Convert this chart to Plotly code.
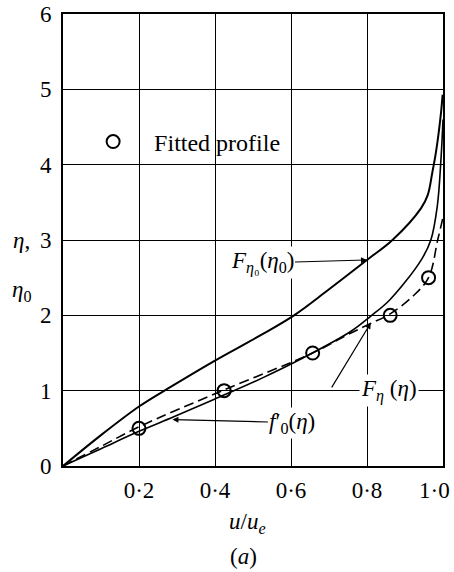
import plotly.graph_objects as go

# ---- data ----
u_upper = [0, 0.1, 0.2, 0.27, 0.40, 0.525, 0.608, 0.696, 0.80, 0.867, 0.942, 0.96, 0.972, 0.98, 0.988, 0.995, 0.999]
eta_upper = [0, 0.41, 0.79, 1.01, 1.40, 1.75, 2.0, 2.33, 2.735, 3.0, 3.42, 3.6, 3.9, 4.12, 4.4, 4.7, 4.93]

u_f0 = [0, 0.1, 0.2, 0.29, 0.40, 0.525, 0.626, 0.757, 0.81, 0.859, 0.942, 0.968, 0.985, 0.995, 1.0]
eta_f0 = [0, 0.23, 0.46, 0.65, 0.89, 1.17, 1.42, 1.785, 1.99, 2.20, 2.73, 3.0, 3.45, 4.1, 4.6]

u_Feta = [0, 0.1, 0.2, 0.424, 0.657, 0.74, 0.80, 0.861, 0.92, 0.962, 0.986, 1.0]
eta_Feta = [0, 0.26, 0.52, 1.01, 1.50, 1.72, 1.87, 2.02, 2.25, 2.50, 3.0, 3.3]

u_fit = [0.2, 0.424, 0.657, 0.861, 0.962]
eta_fit = [0.5, 1.0, 1.5, 2.0, 2.5]

x_ticks = [0.2, 0.4, 0.6, 0.8, 1.0]
x_ticktext = ["0·2", "0·4", "0·6", "0·8", "1·0\u00a0\u00a0\u00a0"]
y_ticks = [0, 1, 2, 3, 4, 5, 6]
y_ticktext = ["0", "1", "2", "3", "4", "5", "6"]

FONT = "Liberation Serif"

fig = go.Figure()
fig.add_trace(go.Scatter(x=u_upper, y=eta_upper, mode="lines", line=dict(color="black", width=2, shape="spline", smoothing=1.0), showlegend=False))
fig.add_trace(go.Scatter(x=u_f0, y=eta_f0, mode="lines", line=dict(color="black", width=1.6, shape="spline", smoothing=1.0), showlegend=False))
fig.add_trace(go.Scatter(x=u_Feta, y=eta_Feta, mode="lines", line=dict(color="black", width=1.6, dash="10px,5px", shape="spline", smoothing=1.0), showlegend=False))
fig.add_trace(go.Scatter(x=u_fit, y=eta_fit, mode="markers", name="Fitted profile",
                         marker=dict(symbol="circle-open", size=13, color="black", line=dict(width=2, color="black")),
                         showlegend=True))

axis_common = dict(showgrid=True, gridcolor="black", gridwidth=1, zeroline=False, showline=True,
                   linewidth=2, linecolor="black", mirror=True, ticks="", automargin=False,
                   ticklabeloverflow="allow",
                   tickfont=dict(family=FONT, size=23, color="black"))
fig.update_xaxes(range=[0, 1], tickvals=x_ticks, ticktext=x_ticktext, ticklabelstandoff=2, **axis_common)
fig.update_yaxes(range=[0, 6], tickvals=y_ticks, ticktext=y_ticktext, ticklabelstandoff=5, **axis_common)

ann_font = dict(family=FONT, size=23, color="black")
annotations = [
    dict(x=0.80, y=2.735, xref="x", yref="y", ax=-105, ay=3, text="<i>F</i><sub><i>η</i>₀</sub>(<i>η</i><sub>0</sub>)",
         showarrow=True, arrowhead=2, arrowsize=1, arrowwidth=1.2, arrowcolor="black", bgcolor="white", font=ann_font),
    dict(x=0.288, y=0.616, xref="x", yref="y", ax=120, ay=3, text="<i>f</i>′<sub>0</sub>(<i>η</i>)",
         showarrow=True, arrowhead=2, arrowsize=1, arrowwidth=1.2, arrowcolor="black", bgcolor="white", font=ann_font),
    dict(x=0.858, y=1.0, xref="x", yref="y", text="<i>F</i><sub><i>η</i></sub> (<i>η</i>)", showarrow=False,
         bgcolor="white", font=ann_font),
    dict(x=0.81, y=1.9, xref="x", yref="y", ax=-40, ay=66, text="", showarrow=True, arrowhead=2, arrowsize=1,
         arrowwidth=1.2, arrowcolor="black"),
    dict(x=-0.108, y=0.498, xref="paper", yref="paper", xanchor="center", yanchor="middle",
         text="<i>η</i>,", showarrow=False, font=ann_font),
    dict(x=-0.108, y=0.388, xref="paper", yref="paper", xanchor="center", yanchor="middle",
         text="<i>η</i><sub>0</sub>", showarrow=False, font=ann_font),
    dict(x=0.486, y=-0.125, xref="paper", yref="paper", xanchor="center", yanchor="middle",
         text="<i>u</i>/<i>u<sub>e</sub></i>", showarrow=False, font=ann_font),
    dict(x=0.476, y=-0.2, xref="paper", yref="paper", xanchor="center", yanchor="middle",
         text="(<i>a</i>)", showarrow=False, font=ann_font),
]

fig.update_layout(
    width=454, height=572,
    margin=dict(l=63, r=11, t=14, b=106),
    plot_bgcolor="white", paper_bgcolor="white",
    annotations=annotations,
    legend=dict(x=0.024, y=0.717, xanchor="left", yanchor="middle", bgcolor="rgba(0,0,0,0)",
                font=dict(family=FONT, size=24, color="black"), itemwidth=72),
    font=dict(family=FONT, color="black"),
)

# remove the default 8px page margin so the figure fills the window exactly
fig.write_html("out.html", config={"displayModeBar": False},
               post_script="document.body.style.margin='0';document.body.style.overflow='hidden';")
